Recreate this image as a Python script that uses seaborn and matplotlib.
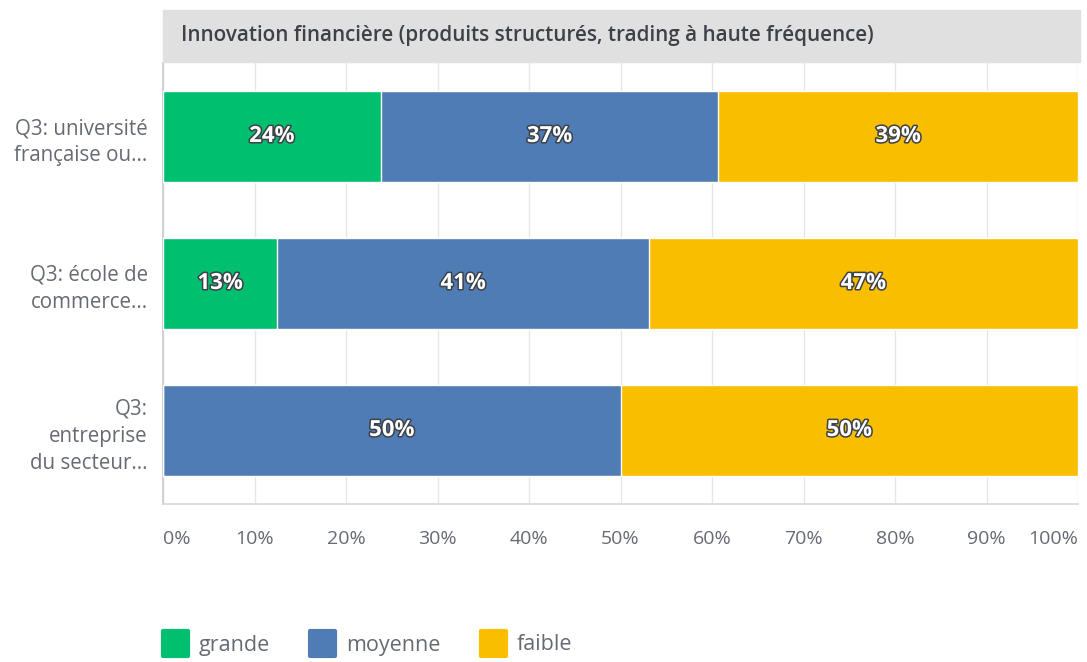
import numpy as np
import pandas as pd
import matplotlib
matplotlib.use("Agg")
import matplotlib.pyplot as plt
import matplotlib.patheffects as pe
from matplotlib.patches import Rectangle
from matplotlib.lines import Line2D
from matplotlib.markers import MarkerStyle
import seaborn as sns

# data
categories = ["Q3: université\nfrançaise ou...", "Q3: école de\ncommerce...", "Q3:\nentreprise\ndu secteur..."]
grande = [23.8, 12.5, 0.0]
moyenne = [36.9, 40.6, 50.0]
faible = [39.3, 46.9, 50.0]
labels_grande = ["24%", "13%", ""]
labels_moyenne = ["37%", "41%", "50%"]
labels_faible = ["39%", "47%", "50%"]
series = ["grande", "moyenne", "faible"]
colors = {"grande": "#00BF6F", "moyenne": "#507CB6", "faible": "#F9BE00"}
title = "Innovation financière (produits structurés, trading à haute fréquence)"

sns.set_theme(style="white")
plt.rcParams['font.family'] = ['Open Sans', 'DejaVu Sans']

df = pd.DataFrame({"cat": categories, "grande": grande, "moyenne": moyenne, "faible": faible})
df["c1"] = df["grande"]
df["c2"] = df["grande"] + df["moyenne"]
df["c3"] = df["c2"] + df["faible"]

fig = plt.figure(figsize=(10.87, 6.62), dpi=100)
ax = fig.add_axes([163/1087, 158/662, 915/1087, 441/662])

# stacked: draw cumulative from largest to smallest
for col, name in [("c3", "faible"), ("c2", "moyenne"), ("c1", "grande")]:
    sns.barplot(data=df, y="cat", x=col, orient="h", color=colors[name],
                width=0.62, ax=ax, saturation=1, zorder=3)

ax.set_xlim(0, 100)
ax.set_ylim(2.5, -0.5)
ax.set_xticks(np.arange(0, 101, 10))
ax.set_xticklabels([f"{v}%" for v in range(0, 101, 10)], color="#666a73", fontsize=14)
xt = ax.get_xticklabels()
xt[0].set_horizontalalignment("left")
xt[-1].set_horizontalalignment("right")
ax.tick_params(axis="x", length=0, pad=19)
ax.tick_params(axis="y", length=0, pad=11)
ax.set_yticks(range(len(categories)))
ax.set_yticklabels(categories, color="#666a73", fontsize=14.8, linespacing=1.38)
for t in ax.get_yticklabels():
    t.set_horizontalalignment("right")
ax.set_xlabel("")
ax.set_ylabel("")
ax.grid(axis="x", color="#e6e6e6", lw=1, zorder=0)
for s in ["top", "right"]:
    ax.spines[s].set_visible(False)
ax.spines["left"].set_color("#cccccc")
ax.spines["bottom"].set_color("#d9d9d9")

# value labels
stroke = [pe.withStroke(linewidth=2.2, foreground="#3d4148")]
for i in range(len(categories)):
    starts = [0, grande[i], grande[i] + moyenne[i]]
    vals = [grande[i], moyenne[i], faible[i]]
    labs = [labels_grande[i], labels_moyenne[i], labels_faible[i]]
    for st, v, lb in zip(starts, vals, labs):
        if v > 0 and lb:
            ax.text(st + v / 2, i, lb, ha="center", va="center", color="white",
                    fontsize=16, fontweight="bold", path_effects=stroke, zorder=5)

# title band
fig.patches.append(Rectangle((163/1087, (662-62)/662), 917/1087, 52/662,
                             transform=fig.transFigure, color="#e0e0e0", zorder=0))
fig.text(181/1087, (662-35)/662, title, ha="left", va="center", fontsize=14.9,
         fontweight="semibold", color="#3d4148")

# legend
mk = MarkerStyle("s", joinstyle="round")
handles = [Line2D([0], [0], marker=mk, linestyle="", markersize=18, markeredgewidth=3,
                  markerfacecolor=colors[s], markeredgecolor=colors[s]) for s in series]
fig.legend(handles, series, loc="center left", bbox_to_anchor=(150/1087, 1 - 645/662),
           ncol=3, frameon=False, fontsize=15.5, handletextpad=0.35, columnspacing=1.7,
           handlelength=1.5, labelcolor="#666a73", borderaxespad=0)

fig.savefig("out.png", dpi=100)
